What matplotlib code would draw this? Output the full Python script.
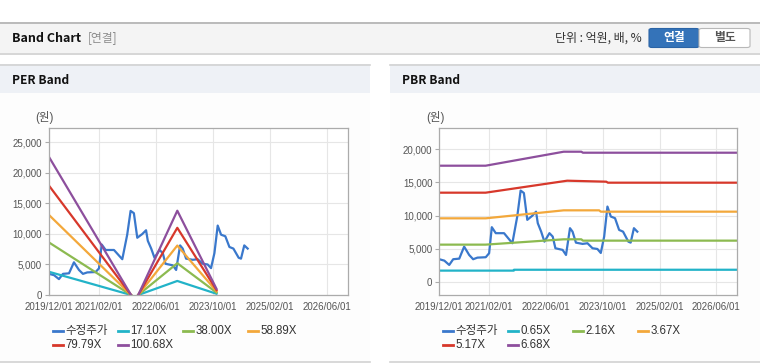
import pandas as pd
import matplotlib
matplotlib.use('Agg')
import matplotlib.pyplot as plt
import matplotlib.dates as mdates
from matplotlib.patches import Rectangle, FancyBboxPatch
from matplotlib.lines import Line2D
from matplotlib.ticker import FuncFormatter

plt.rcParams['font.family'] = ['Liberation Sans', 'Noto Sans CJK KR', 'DejaVu Sans']

### price (수정주가), same series on both charts
price_dates = ['2019-12-01', '2020-01-13', '2020-02-24', '2020-03-29', '2020-05-20', '2020-07-01',
               '2020-08-13', '2020-09-16', '2020-10-23', '2021-01-02', '2021-01-31', '2021-02-23',
               '2021-03-29', '2021-06-08', '2021-08-18', '2021-09-29', '2021-10-28', '2021-11-25',
               '2021-12-24', '2022-02-04', '2022-03-09', '2022-03-24', '2022-04-22', '2022-05-20',
               '2022-07-02', '2022-07-30', '2022-08-22', '2022-10-23', '2022-11-21', '2022-12-25',
               '2023-01-16', '2023-02-14', '2023-04-12', '2023-05-24', '2023-07-06', '2023-08-17',
               '2023-09-15', '2023-10-14', '2023-11-11', '2023-12-10', '2024-01-15', '2024-02-19',
               '2024-03-24', '2024-05-08', '2024-05-28', '2024-06-25', '2024-07-24']
price = [3460, 3250, 2600, 3460, 3550, 5350, 4100, 3460, 3700, 3760, 4360, 8270,
         7370, 7370, 5860, 9870, 13770, 13400, 9370, 9970, 10600, 8870, 7600, 6100,
         7370, 6860, 5110, 4860, 4100, 8120, 7600, 5950, 5760, 5860, 5110, 5000,
         4400, 6860, 11370, 9870, 9620, 7860, 7600, 6100, 5950, 8120, 7600]

### PER bands (two pieces, gap in between)
per_dates1 = ['2019-12-01', '2021-11-01']
per_dates2 = ['2022-01-01', '2022-12-01', '2023-11-01']
per_labels = ['17.10X', '38.00X', '58.89X', '79.79X', '100.68X']
per_band1 = [[3800, 0], [8600, 0], [13100, 0], [17900, 0], [22600, 0]]
per_band2 = [[0, 2300, 200], [0, 5200, 400], [0, 8100, 600], [0, 11000, 800], [0, 13800, 1000]]

### PBR bands
pbr_labels = ['0.65X', '2.16X', '3.67X', '5.17X', '6.68X']
pbr_dates = [
    ['2019-12-01', '2021-08-31', '2021-09-01', '2026-11-28'],
    ['2019-12-01', '2021-01-01', '2022-11-01', '2023-04-01', '2023-04-15', '2026-11-28'],
    ['2019-12-01', '2021-01-01', '2022-11-01', '2023-09-01', '2023-09-15', '2026-11-28'],
    ['2019-12-01', '2021-01-01', '2022-12-01', '2023-11-01', '2023-11-15', '2026-11-28'],
    ['2019-12-01', '2021-01-01', '2022-11-01', '2023-04-01', '2023-04-15', '2026-11-28'],
]
pbr_band = [
    [1750, 1750, 1880, 1880],
    [5650, 5650, 6450, 6450, 6250, 6250],
    [9600, 9600, 10800, 10800, 10600, 10600],
    [13450, 13450, 15250, 15100, 14950, 14950],
    [17500, 17500, 19600, 19600, 19450, 19450],
]

xticks = ['2019-12-01', '2021-02-01', '2022-06-01', '2023-10-01', '2025-02-01', '2026-06-01']
price_color = '#3a78cc'
band_colors = ['#22b3c8', '#8cba50', '#f3a83b', '#d7382b', '#8d4f9d']

W, H = 760, 364


def fx(x):
    return x / W


def fy(y):
    return 1 - y / H


def rect(fig, x0, y0, x1, y1, color, z=-2):
    fig.add_artist(Rectangle((fx(x0), fy(y1)), (x1 - x0) / W, (y1 - y0) / H,
                             transform=fig.transFigure, facecolor=color,
                             edgecolor='none', zorder=z))


def hline(fig, x0, x1, y, color, lw=1.0):
    fig.add_artist(Line2D([fx(x0), fx(x1)], [fy(y), fy(y)], transform=fig.transFigure,
                          color=color, lw=lw, zorder=-1))


def style_axes(ax, ylim, yticks):
    ax.set_xlim(pd.Timestamp('2019-12-01'), pd.Timestamp('2026-11-28'))
    ax.set_ylim(*ylim)
    ax.set_yticks(yticks)
    ax.yaxis.set_major_formatter(FuncFormatter(lambda v, p: '{:,.0f}'.format(v)))
    ax.set_xticks(pd.to_datetime(xticks))
    ax.xaxis.set_major_formatter(mdates.DateFormatter('%Y/%m/%d'))
    ax.grid(True, color='#e6e6e6', lw=0.8)
    ax.set_axisbelow(True)
    for s in ax.spines.values():
        s.set_color('#ababab')
        s.set_linewidth(0.9)
    ax.tick_params(axis='y', length=3, color='#ababab', pad=2, labelsize=7, labelcolor='#555555')
    ax.tick_params(axis='x', length=0, pad=5, labelsize=7, labelcolor='#555555')


def legend(fig, left_px, names, colors):
    for i, (name, c) in enumerate(zip(names, colors)):
        x = left_px + 3.5 + (i % 4) * 65
        y = 331 + (i // 4) * 13.5
        fig.add_artist(Line2D([fx(x), fx(x + 10)], [fy(y), fy(y)], transform=fig.transFigure,
                              color=c, lw=2))
        fig.text(fx(x + 13), fy(y), name, fontsize=8.3, color='#333333', va='center', ha='left')


def main():
    fig = plt.figure(figsize=(7.6, 3.64), dpi=100)
    fig.patch.set_facecolor('white')

    # page header
    rect(fig, 0, 22, 760, 53, '#f4f4f4')
    hline(fig, 0, 760, 22.5, '#b0b0b0', 1.2)
    hline(fig, 0, 760, 53.5, '#d0d0d0', 1.2)
    fig.text(fx(12), fy(38), 'Band Chart', fontsize=9, fontweight='bold', color='#111111',
             va='center', family=['Noto Sans CJK KR'])
    fig.text(fx(88), fy(38), '[연결]', fontsize=8.5, color='#8c8c8c', va='center',
             family=['Noto Sans CJK KR'])
    fig.text(fx(642), fy(38.5), '단위 : 억원, 배, %', fontsize=8.6, color='#333333', va='center',
             ha='right', family=['Noto Sans CJK KR'])
    fig.add_artist(FancyBboxPatch((fx(649), fy(47.5)), 50 / W, 19 / H, boxstyle='round,pad=0,rounding_size=0.004',
                                  transform=fig.transFigure, facecolor='#3473b9', edgecolor='#2b64a6',
                                  lw=0.8, zorder=1))
    fig.add_artist(FancyBboxPatch((fx(699), fy(47.5)), 51 / W, 19 / H, boxstyle='round,pad=0,rounding_size=0.004',
                                  transform=fig.transFigure, facecolor='white', edgecolor='#b8b8b8',
                                  lw=0.8, zorder=1))
    fig.text(fx(674), fy(38), '연결', fontsize=8.5, fontweight='bold', color='white', ha='center',
             va='center', family=['Noto Sans CJK KR'], zorder=2)
    fig.text(fx(725), fy(38), '별도', fontsize=8.5, fontweight='bold', color='#555555', ha='center',
             va='center', family=['Noto Sans CJK KR'], zorder=2)

    # panels
    for x0, x1, title in [(0, 370, 'PER Band'), (390, 760, 'PBR Band')]:
        rect(fig, x0, 93, x1, 362, '#fdfdfd')
        rect(fig, x0, 64, x1, 93, '#eef1f6')
        hline(fig, x0, x1, 64.5, '#d2d2d2', 1.2)
        hline(fig, x0, x1, 362, '#d2d2d2', 1.2)
        fig.text(fx(x0 + 12), fy(80), title, fontsize=8.6, fontweight='bold', color='#111111',
                 va='center', family=['Noto Sans CJK KR'])

    pdates = pd.to_datetime(price_dates)

    # PER chart
    ax1 = fig.add_axes([fx(49), fy(295), 299 / W, 167 / H])
    ax1.plot(pdates, price, color=price_color, lw=1.6)
    for i in range(len(per_labels)):
        ax1.plot(pd.to_datetime(per_dates1), per_band1[i], color=band_colors[i], lw=1.6)
        ax1.plot(pd.to_datetime(per_dates2), per_band2[i], color=band_colors[i], lw=1.6)
    style_axes(ax1, (0, 27340), range(0, 25001, 5000))
    fig.text(fx(44), fy(118), '(원)', fontsize=8.3, color='#555555', ha='center', va='center')
    legend(fig, 49, ['수정주가'] + per_labels, [price_color] + band_colors)

    # PBR chart
    ax2 = fig.add_axes([fx(439.3), fy(295), 298 / W, 167 / H])
    ax2.plot(pdates, price, color=price_color, lw=1.6)
    for i in range(len(pbr_labels)):
        ax2.plot(pd.to_datetime(pbr_dates[i]), pbr_band[i], color=band_colors[i], lw=1.6)
    style_axes(ax2, (-1910, 23160), range(0, 20001, 5000))
    fig.text(fx(435), fy(118), '(원)', fontsize=8.3, color='#555555', ha='center', va='center')
    legend(fig, 439.3, ['수정주가'] + pbr_labels, [price_color] + band_colors)

    fig.savefig('out.png', dpi=100, facecolor='white')


if __name__ == '__main__':
    main()
